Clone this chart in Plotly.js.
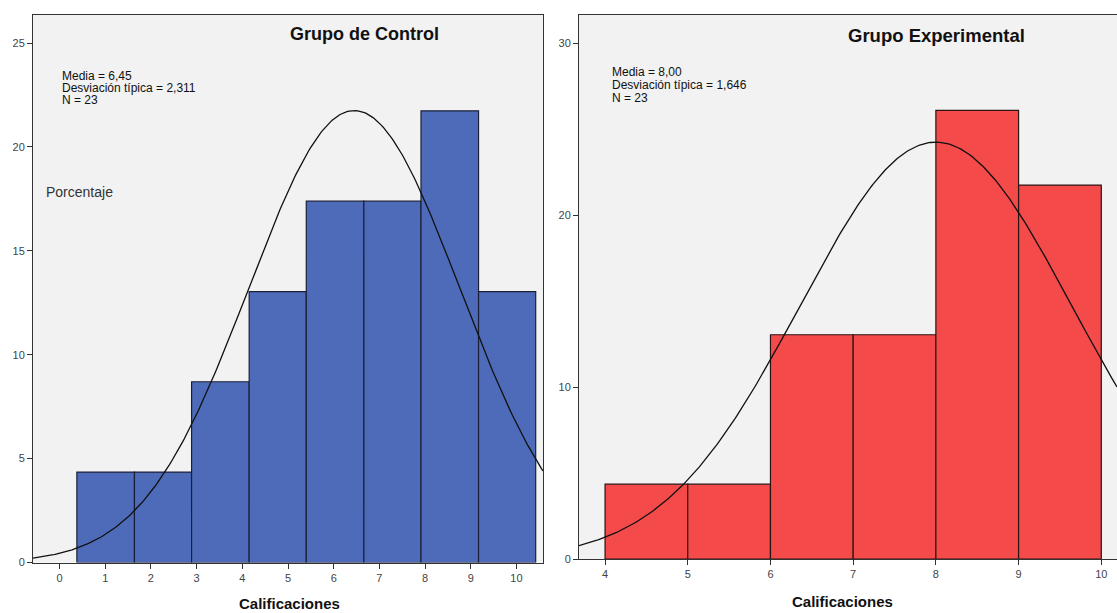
<!DOCTYPE html>
<html><head><meta charset="utf-8">
<script src="https://cdn.plot.ly/plotly-3.0.1.min.js"></script>
<style>html,body{margin:0;padding:0;background:#fff;} #chart{width:1117px;height:613px;}</style>
</head><body><div id="chart"></div>
<script>
// ---- data ----
const controlBinEdges = [0.38, 1.64, 2.89, 4.15, 5.40, 6.66, 7.91, 9.17, 10.42];
const controlPercent  = [4.35, 4.35, 8.70, 13.04, 17.39, 17.39, 21.74, 13.04];
const controlMean = 6.45, controlSd = 2.311, controlN = 23;
const expBinEdges = [4, 5, 6, 7, 8, 9, 10];
const expPercent  = [4.35, 4.35, 13.04, 13.04, 26.09, 21.74];
const expMean = 8.00, expSd = 1.646, expN = 23;
const controlXTicks = [0,1,2,3,4,5,6,7,8,9,10];
const controlYTicks = [0,5,10,15,20,25];
const expXTicks = [4,5,6,7,8,9,10];
const expYTicks = [0,10,20,30];
const titles = ["Grupo de Control", "Grupo Experimental"];
const xTitle = "Calificaciones";
const yTitle = "Porcentaje";

// ---- layout geometry ----
const W = 1117, H = 613;
const px = v => v / W, py = v => 1 - v / H;
const controlXRange = [-0.58, 10.58], controlYRange = [0, 26.35];
const expXRange = [3.685, 10.19], expYRange = [0, 31.63];

function centers(e){ const c=[]; for(let i=0;i<e.length-1;i++) c.push((e[i]+e[i+1])/2); return c; }
function widths(e){ const w=[]; for(let i=0;i<e.length-1;i++) w.push(e[i+1]-e[i]); return w; }
function normalCurve(mean, sd, binW, range){
  const xs=[], ys=[]; const k = 100*binW/(sd*Math.sqrt(2*Math.PI));
  for(let i=0;i<=300;i++){ const x=range[0]+(range[1]-range[0])*i/300; xs.push(x); ys.push(k*Math.exp(-0.5*((x-mean)/sd)**2)); }
  return {xs, ys};
}
const cW = widths(controlBinEdges), eW = widths(expBinEdges);
const cCurve = normalCurve(controlMean, controlSd, cW[0], controlXRange);
const eCurve = normalCurve(expMean, expSd, eW[0], expXRange);

const font = 'Liberation Sans, Arial, sans-serif';
const traces = [
  {type:'bar', x:centers(controlBinEdges), y:controlPercent, width:cW, xaxis:'x', yaxis:'y',
   marker:{color:'#4d6bb8', line:{color:'#1b2038', width:1.2}}, hoverinfo:'skip'},
  {type:'scatter', mode:'lines', x:cCurve.xs, y:cCurve.ys, xaxis:'x', yaxis:'y',
   line:{color:'#111', width:1.3}, hoverinfo:'skip'},
  {type:'bar', x:centers(expBinEdges), y:expPercent, width:eW, xaxis:'x2', yaxis:'y2',
   marker:{color:'#f44a4a', line:{color:'#2a1515', width:1.2}}, hoverinfo:'skip'},
  {type:'scatter', mode:'lines', x:eCurve.xs, y:eCurve.ys, xaxis:'x2', yaxis:'y2',
   line:{color:'#111', width:1.3}, hoverinfo:'skip'}
];

const axBase = {showgrid:false, zeroline:false, showline:true, linecolor:'#333', linewidth:1,
  ticks:'outside', ticklen:5, tickwidth:1, tickcolor:'#333',
  tickfont:{family:font, size:11, color:'#444'}, fixedrange:true};

const ann = (text, x, y, size, bold, anchor) => ({xref:'paper', yref:'paper', x:px(x), y:py(y),
  text: bold ? '<b>'+text+'</b>' : text, showarrow:false, xanchor:anchor||'center', yanchor:'middle',
  font:{family:font, size:size, color:'#111'}});

const layout = {
  width:W, height:H, margin:{l:0,r:0,t:0,b:0}, paper_bgcolor:'#fff', plot_bgcolor:'#f2f2f2',
  showlegend:false, bargap:0,
  xaxis: Object.assign({}, axBase, {domain:[px(33), px(543)], range:controlXRange, anchor:'y',
    tickvals:controlXTicks, ticktext:controlXTicks.map(String), mirror:true}),
  yaxis: Object.assign({}, axBase, {domain:[py(562.5), py(15)], range:controlYRange, anchor:'x',
    tickvals:controlYTicks, ticktext:controlYTicks.map(String), mirror:true}),
  xaxis2: Object.assign({}, axBase, {domain:[px(579), 1], range:expXRange, anchor:'y2',
    tickvals:expXTicks, ticktext:expXTicks.map(String), mirror:true}),
  yaxis2: Object.assign({}, axBase, {domain:[py(559), py(15)], range:expYRange, anchor:'x2',
    tickvals:expYTicks, ticktext:expYTicks.map(String), mirror:false}),
  annotations: [
    ann(titles[0], 364, 34, 18, true),
    ann(titles[1], 936, 35, 18.5, true),
    ann(xTitle, 289, 603, 15, true),
    ann(xTitle, 842, 601, 15, true),
    Object.assign(ann(yTitle, 44, 192, 14, false, 'left'), {font:{family:font,size:14,color:'#333'}}),
    ann('Media = ' + controlMean.toFixed(2).replace('.', ','), 60, 76, 12, false, 'left'),
    ann('Desviación típica = ' + controlSd.toFixed(3).replace('.', ','), 60, 88, 12, false, 'left'),
    ann('N = ' + controlN, 60, 99.5, 12, false, 'left'),
    ann('Media = ' + expMean.toFixed(2).replace('.', ','), 610, 72, 12, false, 'left'),
    ann('Desviación típica = ' + expSd.toFixed(3).replace('.', ','), 610, 85, 12, false, 'left'),
    ann('N = ' + expN, 610, 97.5, 12, false, 'left')
  ]
};
Plotly.newPlot('chart', traces, layout, {displayModeBar:false, staticPlot:true});
</script></body></html>
